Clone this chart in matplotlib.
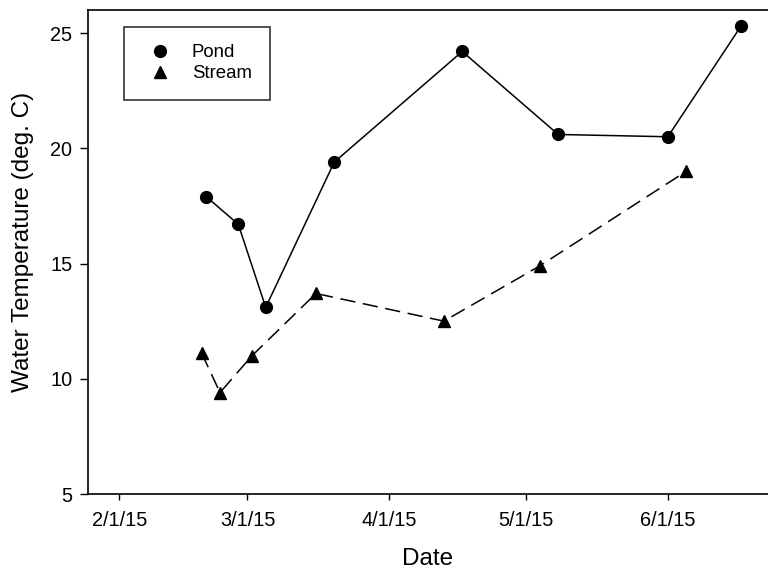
import datetime as dt
import matplotlib
matplotlib.use("Agg")
import matplotlib.pyplot as plt

plt.rcParams['font.family'] = ['Liberation Sans', 'DejaVu Sans']

pond_dates = ["2015-02-20", "2015-02-27", "2015-03-05", "2015-03-20",
              "2015-04-17", "2015-05-08", "2015-06-01", "2015-06-17"]
pond_temp = [17.9, 16.7, 13.1, 19.4, 24.2, 20.6, 20.5, 25.3]

stream_dates = ["2015-02-19", "2015-02-23", "2015-03-02", "2015-03-16",
                "2015-04-13", "2015-05-04", "2015-06-05"]
stream_temp = [11.1, 9.4, 11.0, 13.7, 12.5, 14.9, 19.0]

tick_dates = ["2015-02-01", "2015-03-01", "2015-04-01", "2015-05-01", "2015-06-01"]
tick_labels = ["2/1/15", "3/1/15", "4/1/15", "5/1/15", "6/1/15"]


def to_dt(lst):
    return [dt.datetime.strptime(s, "%Y-%m-%d") for s in lst]


fig = plt.figure(figsize=(7.68, 5.73), dpi=100)
ax = fig.add_axes([87.5 / 768, 1 - 494 / 573, 1 - 87.5 / 768, (494 - 10) / 573])

ax.plot(to_dt(pond_dates), pond_temp, color='black', lw=1.1, marker='o',
        markersize=8.5, label='Pond')
ax.plot(to_dt(stream_dates), stream_temp, color='black', lw=1.1, marker='^',
        markersize=8.5, dashes=(10, 5), label='Stream')

ax.set_xlim(dt.datetime(2015, 1, 25), dt.datetime(2015, 6, 22, 22))
ax.set_ylim(5, 26)
ax.set_xticks(to_dt(tick_dates))
ax.set_xticklabels(tick_labels)
ax.set_yticks([5, 10, 15, 20, 25])

ax.spines['right'].set_visible(False)
for s in ['left', 'top', 'bottom']:
    ax.spines[s].set_linewidth(1.2)
ax.tick_params(axis='both', direction='out', width=1, labelsize=14.3,
               color='black')
ax.tick_params(axis='x', length=4.5, pad=8)
ax.tick_params(axis='y', length=6, pad=5)

ax.set_xlabel('Date', fontsize=17.5)
ax.xaxis.set_label_coords(0.5, -0.112)
ax.set_ylabel('Water Temperature (deg. C)', fontsize=17.5)
ax.yaxis.set_label_coords(-0.079, 0.52)

leg = ax.legend(loc='upper left', bbox_to_anchor=(124 / 768, 1 - 26.7 / 573),
                bbox_transform=fig.transFigure, fontsize=13.4, frameon=True,
                fancybox=False, edgecolor='black', borderpad=0.95,
                handlelength=2.0, handletextpad=0.7, labelspacing=0.2,
                borderaxespad=0)
leg.get_frame().set_linewidth(1.2)
for h in leg.legend_handles:
    h.set_linestyle('None')

fig.savefig('out.png', dpi=100)
